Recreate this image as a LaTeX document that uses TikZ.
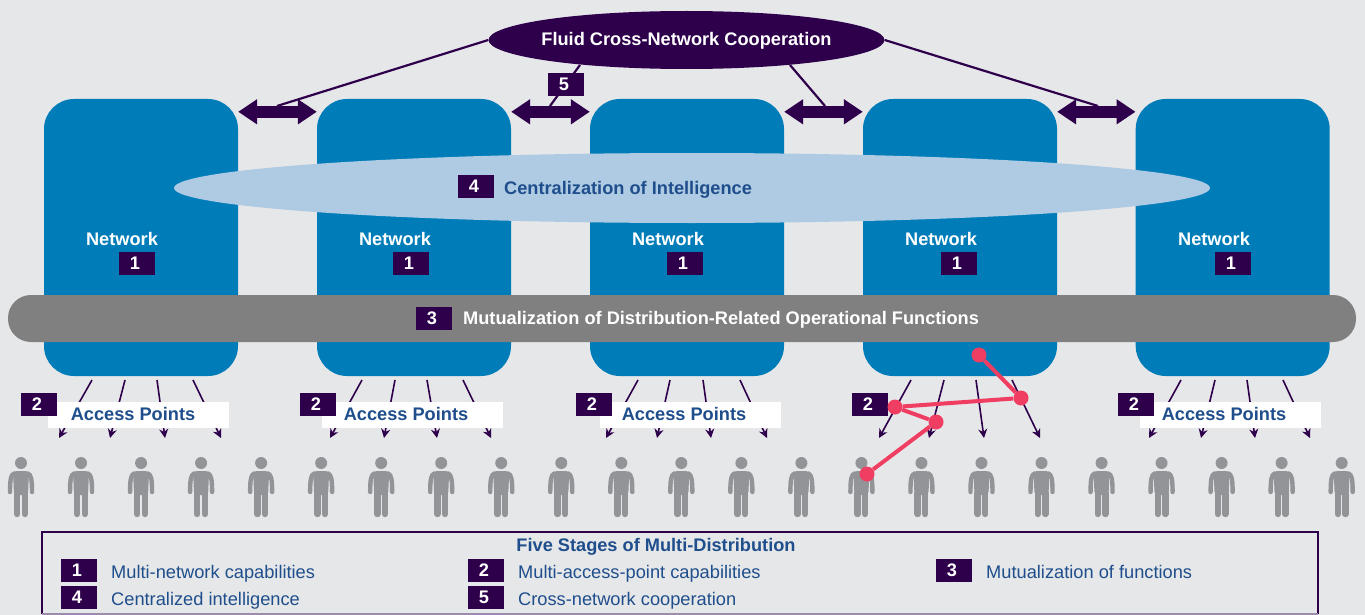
\documentclass[tikz,border=0pt]{standalone}
\usepackage{fontspec}
\setmainfont{Liberation Sans}
\usetikzlibrary{shapes.geometric,arrows.meta}
\definecolor{bgc}{HTML}{E6E7E9}
\definecolor{plum}{HTML}{2E004B}
\definecolor{netblue}{HTML}{007DB8}
\definecolor{lightb}{HTML}{AFCBE3}
\definecolor{pill}{HTML}{808080}
\definecolor{txtblue}{HTML}{1F4E8C}
\definecolor{red1}{HTML}{F03E62}
\definecolor{pers}{HTML}{929497}
\newcommand{\fs}[1]{\fontsize{#1}{#1}\selectfont}
\tikzset{
  netbox/.style={fill=netblue,rounded corners=30pt,minimum width=194pt,minimum height=277pt,inner sep=0pt,text=white},
  badge/.style={fill=plum,text=white,font=\fs{18.2}\bfseries,minimum width=36pt,minimum height=23pt,inner sep=0pt,execute at begin node=\kern-4pt},
  nettxt/.style={text=white,font=\fs{18.2}\bfseries,inner sep=0pt},
  ap/.style={fill=white,minimum width=181pt,minimum height=26pt,inner sep=0pt},
  legtxt/.style={text=txtblue,font=\fs{18.25},inner sep=0pt,anchor=base west},
  dbl/.style={plum,line width=12pt,{Triangle[length=19pt,width=24pt]}-{Triangle[length=19pt,width=24pt]}},
  thin link/.style={plum,line width=2.2pt},
  aparrow/.style={plum,line width=1.6pt,-{Stealth[length=9pt,width=9pt]}},
  redl/.style={red1,line width=4pt},
  reddot/.style={circle,fill=red1,minimum size=15pt,inner sep=0pt},
  person/.pic={
    \fill[pers] (0,6) circle (6);
    \fill[pers,rounded corners=3.5pt] (-8,14)--(8,14)--(7,38)--(-7,38)--cycle;
    \draw[pers,line width=6.4pt,line cap=round] (-3.8,36)--(-3.8,57) (3.8,36)--(3.8,57);
    \draw[pers,line width=4.4pt,line cap=round] (-7,16.5) .. controls (-10,18) and (-11,22) .. (-11,35);
    \draw[pers,line width=4.4pt,line cap=round] (7,16.5) .. controls (10,18) and (11,22) .. (11,35);
  }
}
\begin{document}
\begin{tikzpicture}[x=1pt,y=-1pt]
\useasboundingbox[fill=bgc] (0,0) rectangle (1365,615);
% networks
\node[netbox] (n1) at (141,237.5) {};
\node[netbox] (n2) at (414,237.5) {};
\node[netbox] (n3) at (687,237.5) {};
\node[netbox] (n4) at (960,237.5) {};
\node[netbox] (n5) at (1232.7,237.5) {};
% top ellipse
\node[ellipse,fill=plum,minimum width=396pt,minimum height=58pt,inner sep=0pt] (top) at (686.5,40) {};
\node[text=white,font=\fs{18.2}\bfseries,inner sep=0pt] (toptxt) at (686.5,41) {Fluid Cross-Network Cooperation};
% connection anchors
\coordinate (a1) at (277,106);
\coordinate (a2) at (550,106);
\coordinate (a3) at (825,106);
\coordinate (a4) at (1098,106);
\coordinate (t2) at (580,65);
\coordinate (t3) at (790,65);
\draw[thin link] (top.west) -- (a1);
\draw[thin link] (t2) -- (a2);
\draw[thin link] (t3) -- (a3);
\draw[thin link] (top.east) -- (a4);
% double arrows
\foreach \a/\b in {n1/n2,n2/n3,n3/n4,n4/n5}{
  \draw[dbl] ([yshift=-13pt]\a.north east) -- ([yshift=-13pt]\b.north west);
}
\node[badge] (b5) at (566,84.5) {5};
% access arrows
\foreach \i/\xa/\xb/\xc/\xd/\xe/\xf/\xg/\xh in {
  1/92/59/125/110/157/165/193/221,
  2/362/330/395/384/427/437/463/491,
  3/638/606/670/657/703/711/740/767,
  4/911/879/944/929/976/984/1012/1040,
  5/1181/1149/1215/1201/1247/1255/1283/1310}{
  \coordinate (s\i a) at (\xa,380); \coordinate (e\i a) at (\xb,438);
  \coordinate (s\i b) at (\xc,380); \coordinate (e\i b) at (\xd,438);
  \coordinate (s\i c) at (\xe,380); \coordinate (e\i c) at (\xf,438);
  \coordinate (s\i d) at (\xg,380); \coordinate (e\i d) at (\xh,438);
  \draw[aparrow] (s\i a) -- (e\i a);
  \draw[aparrow] (s\i b) -- (e\i b);
  \draw[aparrow] (s\i c) -- (e\i c);
  \draw[aparrow] (s\i d) -- (e\i d);
}
% light ellipse
\node[ellipse,fill=lightb,minimum width=1036pt,minimum height=70pt,inner sep=0pt] (ci) at (692,188) {};
\node[badge] (b4) at (476,186.5) {4};
\node[anchor=west,text=txtblue,font=\fs{18.2}\bfseries,inner sep=0pt] (cit) at (504,190) {Centralization of Intelligence};
% network labels
\foreach \i/\x/\y in {1/122/137,2/395/411,3/668/685,4/941/959,5/1214/1233}{
  \node[nettxt] (nl\i) at (\x,238.5) {Network};
  \node[badge] (nb\i) at (\y,263.5) {1};
}
% gray pill
\node[fill=pill,rounded corners=23pt,minimum width=1348pt,minimum height=47pt,inner sep=0pt] (mut) at (682,318.5) {};
\node[badge] (b3) at (434,318.5) {3};
\node[anchor=west,text=white,font=\fs{18.2}\bfseries,inner sep=0pt] (mutt) at (463,320) {Mutualization of Distribution-Related Operational Functions};
% access points
\foreach \i/\x/\tx/\bx in {1/138.5/133/39,2/412.5/406/318,3/690.5/684/594,5/1230.5/1224/1136}{
  \node[ap] (apb\i) at (\x,415) {};
  \node[text=txtblue,font=\fs{18.2}\bfseries,inner sep=0pt] (apt\i) at (\tx,414) {Access Points};
  \node[badge] (ab\i) at (\bx,404.5) {2};
}
\node[badge] (ab4) at (870,404.5) {2};
% people
\foreach \k in {0,...,22}{
  \pic at ({21+60.03*\k},457) {person};
}
% red path
\node[reddot] (r1) at (979,355) {};
\node[reddot] (r2) at (1021,398) {};
\node[reddot] (r3) at (895,407) {};
\node[reddot] (r4) at (936,422) {};
\node[reddot] (r5) at (867,474) {};
\draw[redl] (r1) -- (r2);
\draw[redl] (r2) -- (r3);
\draw[redl] (r3) -- (r4);
\draw[redl] (r4) -- (r5);
% legend
\draw[plum,line width=1.4pt] (42,614) -- (42,532) -- (1318,532) -- (1318,614);
\draw[plum!40!bgc,line width=1.2pt] (42,614) -- (1318,614);
\node[text=txtblue,font=\fs{18.2}\bfseries,inner sep=0pt] (lt) at (656,546.5) {Five Stages of Multi-Distribution};
\node[badge] (l1) at (79,570.5) {1};
\node[legtxt] (lt1) at (111,578) {Multi-network capabilities};
\node[badge] (l4) at (79,597.5) {4};
\node[legtxt] (lt4) at (111,605) {Centralized intelligence};
\node[badge] (l2) at (486,570.5) {2};
\node[legtxt] (lt2) at (518,578) {Multi-access-point capabilities};
\node[badge] (l5) at (486,597.5) {5};
\node[legtxt] (lt5) at (518,605) {Cross-network cooperation};
\node[badge] (l3) at (954,570.5) {3};
\node[legtxt] (lt3) at (986,578) {Mutualization of functions};
\end{tikzpicture}
\end{document}
